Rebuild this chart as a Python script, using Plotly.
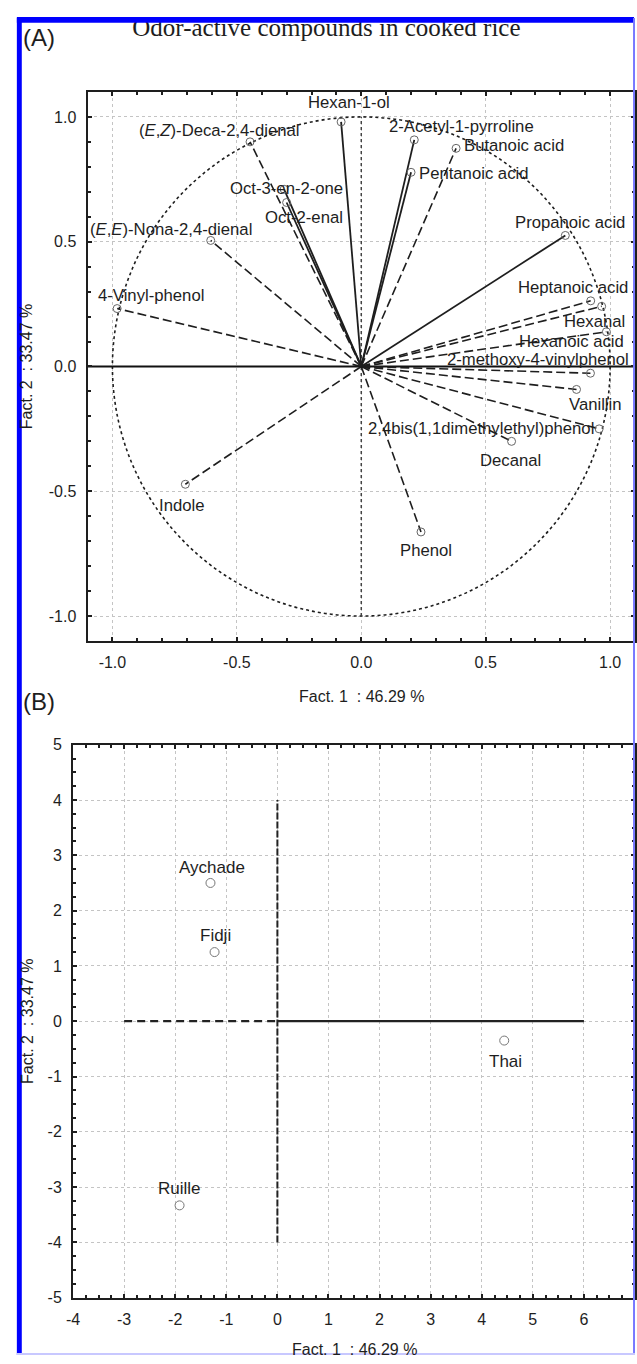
import plotly.graph_objects as go

W, H = 637, 1364

# ---------------- Panel A : factor loadings ----------------
compounds = [
    "Hexan-1-ol", "(<i>E</i>,<i>Z</i>)-Deca-2,4-dienal", "Oct-3-en-2-one", "Oct-2-enal",
    "(<i>E</i>,<i>E</i>)-Nona-2,4-dienal", "4-Vinyl-phenol", "Indole", "Phenol", "Decanal",
    "2,4bis(1,1dimethylethyl)phenol", "Vanillin", "2-methoxy-4-vinylphenol",
    "Hexanoic acid", "Hexanal", "Heptanoic acid", "Propanoic acid", "Butanoic acid",
    "2-Acetyl-1-pyrroline", "Pentanoic acid",
]
fact1_load = [-0.081, -0.447, -0.310, -0.300, -0.605, -0.981, -0.707, 0.240, 0.604,
              0.956, 0.865, 0.921, 0.985, 0.966, 0.922, 0.820, 0.381, 0.213, 0.200]
fact2_load = [0.980, 0.900, 0.710, 0.657, 0.505, 0.232, -0.472, -0.663, -0.300,
              -0.250, -0.092, -0.027, 0.139, 0.241, 0.263, 0.525, 0.874, 0.908, 0.778]
line_kind = ["solid", "dash", "solid", "solid", "dash", "dash", "dash", "dash", "dash",
             "dash", "dash", "dash", "dash", "dash", "dash", "solid", "dash", "solid", "solid"]

# ---------------- Panel B : sample scores ----------------
samples = ["Aychade", "Fidji", "Thai", "Ruille"]
fact1_score = [-1.31, -1.23, 4.44, -1.915]
fact2_score = [2.50, 1.25, -0.35, -3.33]

# ---------------- tick labels ----------------
a_tickvals = [-1.0, -0.5, 0.0, 0.5, 1.0]
a_ticktext = ["-1.0", "-0.5", "0.0", "0.5", "1.0"]
b_xtickvals = [-4, -3, -2, -1, 0, 1, 2, 3, 4, 5, 6, 7]
b_xticktext = ["-4", "-3", "-2", "-1", "0", "1", "2", "3", "4", "5", "6", "7"]
b_ytickvals = [-5, -4, -3, -2, -1, 0, 1, 2, 3, 4, 5]
b_yticktext = ["-5", "-4", "-3", "-2", "-1", "0", "1", "2", "3", "4", "5"]

title_text = "Odor-active compounds in cooked rice"
x_title = "Fact. 1\u00a0\u00a0: 46.29 %"
y_title = "Fact. 2\u00a0\u00a0: 33.47 %"

# label placement (anchor, xshift px, yshift px) -- styling only
label_pos = {
    "Hexan-1-ol": ("center", 8, 19),
    "(<i>E</i>,<i>Z</i>)-Deca-2,4-dienal": ("center", -31, 11),
    "Oct-3-en-2-one": ("center", 2, 1),
    "Oct-2-enal": ("center", 17, -15),
    "(<i>E</i>,<i>E</i>)-Nona-2,4-dienal": ("center", -40, 11),
    "4-Vinyl-phenol": ("center", 34, 13),
    "Indole": ("center", -4, -21),
    "Phenol": ("center", 5, -19),
    "Decanal": ("center", -1, -19),
    "2,4bis(1,1dimethylethyl)phenol": ("right", -3, 0),
    "Vanillin": ("center", 19, -15),
    "2-methoxy-4-vinylphenol": ("right", 41, 14),
    "Hexanoic acid": ("right", 20, -10),
    "Hexanal": ("right", 25, -15),
    "Heptanoic acid": ("right", 39, 13),
    "Propanoic acid": ("center", 5, 13),
    "Butanoic acid": ("left", 6, 3),
    "2-Acetyl-1-pyrroline": ("left", -27, 13),
    "Pentanoic acid": ("left", 6, -1),
}
sample_pos = {"Aychade": (2, 15), "Fidji": (1, 17), "Thai": (1, -21), "Ruille": (0, 17)}

FONT = "Liberation Sans, Arial, sans-serif"
INK = "#1e1e1e"

fig = go.Figure()

# loading vectors
for kind in ["solid", "dash"]:
    xs, ys = [], []
    for x, y, k in zip(fact1_load, fact2_load, line_kind):
        if k == kind:
            xs += [0, x, None]
            ys += [0, y, None]
    fig.add_trace(go.Scatter(
        x=xs, y=ys, mode="lines", xaxis="x", yaxis="y", hoverinfo="skip",
        line=dict(color=INK, width=1.8 if kind == "solid" else 1.6,
                  dash="solid" if kind == "solid" else "9px,4px"),
        showlegend=False))

fig.add_trace(go.Scatter(
    x=fact1_load, y=fact2_load, mode="markers", xaxis="x", yaxis="y",
    marker=dict(symbol="circle-open", size=8, color="#666", line=dict(width=1)),
    text=compounds, showlegend=False))

fig.add_trace(go.Scatter(
    x=fact1_score, y=fact2_score, mode="markers", xaxis="x2", yaxis="y2",
    marker=dict(symbol="circle-open", size=9, color="#777", line=dict(width=1)),
    text=samples, showlegend=False))

# page title as text on a full-page pixel overlay (so the blue frame can clip its top)
fig.add_trace(go.Scatter(
    x=[324], y=[22], mode="text", text=[title_text], textposition="middle center",
    xaxis="x3", yaxis="y3", hoverinfo="skip", cliponaxis=False, showlegend=False,
    textfont=dict(family="Liberation Serif, Times New Roman, serif", size=25, color=INK)))

annotations = []
for name, x, y in zip(compounds, fact1_load, fact2_load):
    anc, dx, dy = label_pos[name]
    annotations.append(dict(
        x=x, y=y, xref="x", yref="y", text=name, showarrow=False,
        xanchor=anc, yanchor="middle", xshift=dx, yshift=dy,
        font=dict(family=FONT, size=16.7, color=INK)))
for name, x, y in zip(samples, fact1_score, fact2_score):
    dx, dy = sample_pos[name]
    annotations.append(dict(
        x=x, y=y, xref="x2", yref="y2", text=name, showarrow=False,
        xanchor="center", yanchor="middle", xshift=dx, yshift=dy,
        font=dict(family=FONT, size=17, color=INK)))


def px(x):
    return x / W


def py(y):
    return 1 - y / H


# panel titles / labels
annotations += [
    dict(x=px(14), y=py(30), xref="paper", yref="paper", text="(A)", showarrow=False,
         xanchor="left", yanchor="middle", font=dict(family=FONT, size=24, color=INK)),
    dict(x=px(14), y=py(702), xref="paper", yref="paper", text="(B)", showarrow=False,
         xanchor="left", yanchor="middle", font=dict(family=FONT, size=24, color=INK)),
    dict(x=px(359.5), y=py(697), xref="paper", yref="paper", text=x_title, showarrow=False,
         xanchor="center", yanchor="middle", font=dict(family=FONT, size=16, color=INK)),
    dict(x=px(352), y=py(1358), xref="paper", yref="paper", text=x_title, showarrow=False,
         xanchor="center", yanchor="middle", font=dict(family=FONT, size=16, color=INK)),
    dict(x=px(20), y=py(363), xref="paper", yref="paper", text=y_title, showarrow=False,
         textangle=-90, xanchor="center", yanchor="middle",
         font=dict(family=FONT, size=16, color=INK)),
    dict(x=px(20), y=py(1026), xref="paper", yref="paper", text=y_title, showarrow=False,
         textangle=-90, xanchor="center", yanchor="middle",
         font=dict(family=FONT, size=16, color=INK)),
]

shapes = [
    # unit circle of correlations
    dict(type="circle", xref="x", yref="y", x0=-1, y0=-1, x1=1, y1=1, layer="between",
         line=dict(color=INK, width=1.6, dash="dot")),
    dict(type="line", xref="x", yref="y", x0=-1.1, x1=1.1, y0=0, y1=0, layer="between",
         line=dict(color="#111", width=2)),
    dict(type="line", xref="x", yref="y", x0=0, x1=0, y0=-1, y1=1, layer="between",
         line=dict(color="#444", width=1.5, dash="dot")),
    # panel B reference lines
    dict(type="line", xref="x2", yref="y2", x0=-3, x1=0, y0=0, y1=0, layer="between",
         line=dict(color="#222", width=2.2, dash="8px,5px")),
    dict(type="line", xref="x2", yref="y2", x0=0, x1=6, y0=0, y1=0, layer="between",
         line=dict(color="#222", width=2.2)),
    dict(type="line", xref="x2", yref="y2", x0=0, x1=0, y0=-4, y1=4, layer="between",
         line=dict(color="#222", width=2, dash="7px,2px")),
    # blue frame
    dict(type="rect", xref="paper", yref="paper", x0=px(10), x1=px(15), y0=0, y1=py(10),
         fillcolor="#0000ff", line=dict(width=0), layer="above"),
    dict(type="rect", xref="paper", yref="paper", x0=px(10), x1=px(636), y0=py(15), y1=py(9),
         fillcolor="#0000ff", line=dict(width=0), layer="above"),
    dict(type="rect", xref="paper", yref="paper", x0=px(635), x1=px(637), y0=py(1364), y1=py(10),
         fillcolor="#7878ff", line=dict(width=0), layer="above"),
    dict(type="rect", xref="paper", yref="paper", x0=px(10), x1=px(637), y0=py(1364), y1=py(1362),
         fillcolor="#c8c8ff", line=dict(width=0), layer="above"),
]

axis_common = dict(
    showline=True, linecolor=INK, linewidth=2, mirror="ticks",
    ticks="inside", ticklen=4, tickwidth=1.5, tickcolor=INK,
    showgrid=True, gridcolor="#c4c4c4", griddash="dot", gridwidth=1,
    zeroline=False, fixedrange=True, ticklabelstandoff=6,
    tickfont=dict(family=FONT, size=16, color=INK),
)

fig.update_layout(
    width=W, height=H, autosize=False,
    margin=dict(l=0, r=0, t=0, b=0),
    paper_bgcolor="white", plot_bgcolor="rgba(0,0,0,0)",
    showlegend=False,
    xaxis=dict(**axis_common, domain=[px(81.7), 1.0], range=[-1.1, 1.1], anchor="y",
               tickmode="array", tickvals=a_tickvals, ticktext=a_ticktext,
               minor=dict(dtick=0.1, tick0=0, ticks="inside", ticklen=3, tickcolor=INK,
                          showgrid=False)),
    yaxis=dict(**axis_common, domain=[py(641), py(85)], range=[-1.1, 1.1], anchor="x",
               tickmode="array", tickvals=a_tickvals, ticktext=a_ticktext,
               minor=dict(dtick=0.1, tick0=0, ticks="inside", ticklen=3, tickcolor=INK,
                          showgrid=False)),
    xaxis2=dict(**axis_common, domain=[px(67), 1.0], range=[-4, 7], anchor="y2",
                tickmode="array", tickvals=b_xtickvals, ticktext=b_xticktext,
                minor=dict(dtick=0.25, tick0=0, ticks="inside", ticklen=3, tickcolor=INK,
                           showgrid=False)),
    yaxis2=dict(**axis_common, domain=[py(1306), py(746)], range=[-5, 5], anchor="x2",
                tickmode="array", tickvals=b_ytickvals, ticktext=b_yticktext,
                minor=dict(dtick=0.25, tick0=0, ticks="inside", ticklen=3, tickcolor=INK,
                           showgrid=False)),
    xaxis3=dict(domain=[0, 1], range=[0, W], visible=False, fixedrange=True, anchor="y3",
                showgrid=False, zeroline=False),
    yaxis3=dict(domain=[0, 1], range=[H, 0], visible=False, fixedrange=True, anchor="x3",
                showgrid=False, zeroline=False),
    annotations=annotations,
    shapes=shapes,
)

page_fix = ("document.documentElement.style.margin='0';"
            "document.documentElement.style.overflow='hidden';"
            "document.body.style.margin='0';document.body.style.padding='0';"
            "document.body.style.overflow='hidden';")

fig.write_html("out.html", post_script=page_fix, config={"displayModeBar": False})
